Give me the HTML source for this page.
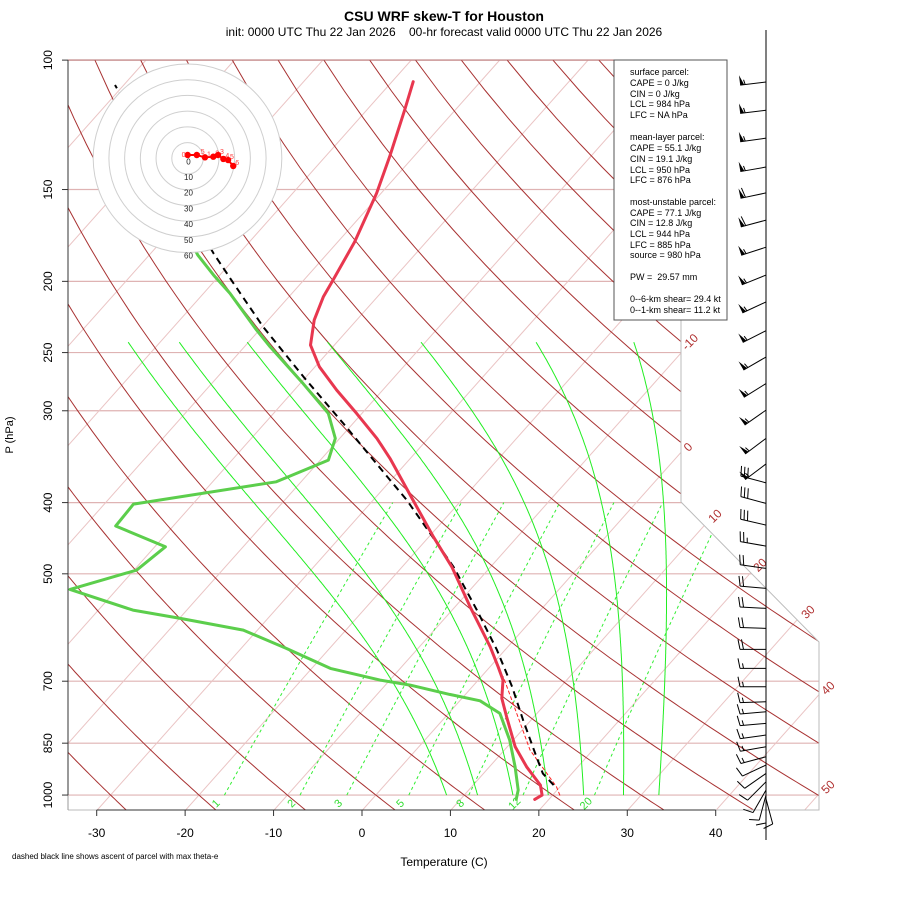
<!DOCTYPE html>
<html><head><meta charset="utf-8"><title>CSU WRF skew-T for Houston</title>
<style>
html,body{margin:0;padding:0;background:#fff;}
svg{display:block;font-family:"Liberation Sans",Arial,sans-serif;}
</style></head>
<body>
<svg id="chart" width="900" height="900" viewBox="0 0 900 900" xmlns="http://www.w3.org/2000/svg">
  <defs>
    <clipPath id="plotclip"><polygon points="68,60 681,60 681,502 819,642 819,810 68,810"/></clipPath>
  </defs>
  <rect x="0" y="0" width="900" height="900" fill="#fff"/>
  <text x="444" y="21" text-anchor="middle" font-size="14" font-weight="bold">CSU WRF skew-T for Houston</text>
  <text x="444" y="36" text-anchor="middle" font-size="12" xml:space="preserve">init: 0000 UTC Thu 22 Jan 2026    00-hr forecast valid 0000 UTC Thu 22 Jan 2026</text>
  <g id="bg" clip-path="url(#plotclip)"></g>
  <g id="frame"></g>
  <g id="series"></g>
  <g id="winds"></g>
  <g id="hodo"></g>
  <g id="legend">
    <rect x="614" y="60" width="113" height="260" fill="#fff" stroke="#555" stroke-width="1"/>
    <g font-size="9" fill="#000">
      <text x="630" y="75">surface parcel:</text>
      <text x="630" y="86">CAPE = 0 J/kg</text>
      <text x="630" y="97">CIN = 0 J/kg</text>
      <text x="630" y="107">LCL = 984 hPa</text>
      <text x="630" y="118">LFC = NA hPa</text>
      <text x="630" y="140">mean-layer parcel:</text>
      <text x="630" y="151">CAPE = 55.1 J/kg</text>
      <text x="630" y="162">CIN = 19.1 J/kg</text>
      <text x="630" y="173">LCL = 950 hPa</text>
      <text x="630" y="183">LFC = 876 hPa</text>
      <text x="630" y="205">most-unstable parcel:</text>
      <text x="630" y="216">CAPE = 77.1 J/kg</text>
      <text x="630" y="226">CIN = 12.8 J/kg</text>
      <text x="630" y="237">LCL = 944 hPa</text>
      <text x="630" y="248">LFC = 885 hPa</text>
      <text x="630" y="258">source = 980 hPa</text>
      <text x="630" y="280" xml:space="preserve">PW =  29.57 mm</text>
      <text x="630" y="302">0--6-km shear= 29.4 kt</text>
      <text x="630" y="313">0--1-km shear= 11.2 kt</text>
    </g>
  </g>
  <text x="444" y="866" text-anchor="middle" font-size="12">Temperature (C)</text>
  <text x="13" y="435" text-anchor="middle" font-size="11" transform="rotate(-90 13 435)">P (hPa)</text>
  <text x="12" y="859" font-size="8">dashed black line shows ascent of parcel with max theta-e</text>
</svg>
<script>
// ---- data ----
const tempP=[1013.6,1000,969.3,915.3,859.6,782.5,738.6,697.5,668.9,628.4,554.4,489.1,445.2,396.9,348.3,327.1,302.5,281.2,261.4,244.2,225.8,210.0,199.2,176.7,151.8,135.4,117.0,107.0];
const tempT=[18.4,18.8,17.6,14.2,10.9,6.9,4.5,2.8,0.9,-2.0,-8.3,-14.4,-19.5,-25.5,-32.3,-35.8,-40.6,-45.2,-49.5,-52.7,-54.8,-56.1,-56.7,-58.1,-60.5,-62.7,-65.7,-67.6];
const dewP=[1013.6,984.5,915.3,841.8,774.2,744.3,729.5,708.6,697.5,672.4,631.6,596.4,574.9,560.2,525.0,494.2,459.4,430.5,401.9,374.8,350.1,327.1,302.5,275.3,245.5,233.0,207.7,196.1,184.2,170.3];
const dewT=[16.3,15.6,12.9,9.6,5.8,2.3,-1.8,-7.2,-11.1,-17.9,-24.9,-31.6,-39.9,-46.1,-55.3,-49.7,-48.8,-56.5,-56.7,-42.8,-39.1,-40.5,-43.8,-49.7,-57.1,-60.3,-67.0,-70.7,-74.5,-78.5];
const parcelP=[969.3,934.5,886.9,790.6,712.2,635.0,560.2,489.1,440.5,396.9,372.8,312.1,269.7,230.6,201.3,183.2,108.1];
const parcelT=[19.1,16.7,14.3,9.1,4.5,-0.9,-7.2,-14.2,-20.2,-26.2,-30.1,-41.1,-50.3,-59.9,-67.6,-72.9,-101.0];
const virtP=[1000,974.4,868.5,774.2,690.3];
const virtT=[20.8,19.6,12.9,7.7,2.5];
const windP=[107.1,117.0,127.7,139.8,151.6,165.1,179.7,196.1,213.3,233.4,253.5,275.5,299.4,327.1,354.4,376.0,401.0,429.2,458.4,491.6,523.3,557.2,593.2,633.6,672.4,712.2,746.6,770.4,798.8,828.6,859.6,886.9,910.3,934.5,959.4,984.5,1000,1006,1012];
const windSpd=[55,55,55,55,60,60,55,55,55,55,55,55,55,55,55,30,30,30,25,20,20,20,20,20,15,15,15,15,15,15,15,15,10,10,10,10,10,10,10];
const windDir=[263,263,262,260,258,255,252,248,245,243,240,238,235,233,233,285,285,283,280,278,275,273,272,270,270,270,268,265,265,262,260,255,245,235,225,210,195,180,165];
const hodoU=[0.1,5.9,11.1,16.4,19.4,22.8,25.8,29.1];
const hodoV=[2.1,2.1,0.6,1.0,2.1,-0.4,-1.1,-4.9];
const hodoLab=['0','.5','1','2','3','4','5','6'];
const xTicks=[-30,-20,-10,0,10,20,30,40];
const pTicks=[100,150,200,250,300,400,500,700,850,1000];
const mixRatios=[1,2,3,5,8,12,20];
const moistStarts=[8,11.5,15.5,19.5,23.5,28,32];
const isoLabels=[-10,0,10,20,30,40,50];

// ---- scales ----
const NS='http://www.w3.org/2000/svg';
function ty(p){return 132.18-44.061*Math.log10(p);}
function Y(p){return 795-16.68*ty(p);}
function X(T,p){return 375.9+16.376*(0.54*T+0.90692*ty(p));}
function mk(tag,parent){const e=document.createElementNS(NS,tag);parent.appendChild(e);return e;}
function pathFrom(pts){return pts.map((q,i)=>(i?'L':'M')+q[0].toFixed(1)+','+q[1].toFixed(1)).join(' ');}
const bg=document.getElementById('bg'),frame=document.getElementById('frame'),series=document.getElementById('series'),winds=document.getElementById('winds'),hodo=document.getElementById('hodo');

// pressure lines
pTicks.forEach(p=>{
  const l=mk('line',bg);
  l.setAttribute('x1',68);l.setAttribute('x2',820);l.setAttribute('y1',Y(p));l.setAttribute('y2',Y(p));
  l.setAttribute('stroke','#dfb3b3');l.setAttribute('stroke-width','1.2');
  
  
});
// isotherms
for(let T=-140;T<=60;T+=10){
  const l=mk('line',bg);
  l.setAttribute('x1',X(T,1050));l.setAttribute('y1',Y(1050));l.setAttribute('x2',X(T,100));l.setAttribute('y2',Y(100));
  l.setAttribute('stroke','#eac4c4');l.setAttribute('stroke-width','1');
  
  
}
// dry adiabats
for(let th=-40;th<=200;th+=10){
  const pts=[];
  for(let p=100;p<=1060;p+=10){const T=(th+273.15)*Math.pow(p/1000,0.2857)-273.15;pts.push([X(T,p),Y(p)]);}
  const e=mk('path',bg);
  e.setAttribute('d',pathFrom(pts));e.setAttribute('fill','none');e.setAttribute('stroke','#a83232');e.setAttribute('stroke-width','1');
  
  
}
// moist adiabats
function es(T){return 6.112*Math.exp(17.67*T/(T+243.5));}
moistStarts.forEach(T0=>{
  let T=T0+273.15,p=1000;const pts=[[X(T0,p),Y(p)]];
  while(p>242){
    const e=es(T-273.15);const rs=0.622*e/(p-e);
    const d=(287*T+2.5e6*rs)/(1004+2.5e6*2.5e6*rs*0.622/(287*T*T));
    const np=p-2;T+=d*Math.log(np/p);p=np;pts.push([X(T-273.15,p),Y(p)]);
  }
  const el=mk('path',bg);
  el.setAttribute('d',pathFrom(pts));el.setAttribute('fill','none');el.setAttribute('stroke','#22ee22');el.setAttribute('stroke-width','1');
  
  
});
// mixing ratio lines
function tdFromW(w,p){const e=w*p/(622+w);const a=Math.log(e/6.112);return 243.5*a/(17.67-a);}
mixRatios.forEach(w=>{
  const pts=[];for(let p=1000;p>=400;p-=20)pts.push([X(tdFromW(w,p),p),Y(p)]);
  const el=mk('path',bg);
  el.setAttribute('d',pathFrom(pts));el.setAttribute('fill','none');el.setAttribute('stroke','#33ee33');el.setAttribute('stroke-width','1');el.setAttribute('stroke-dasharray','3,3');
  
  
  const tx=X(tdFromW(w,1000),1000)-6,tyy=806;
  const t=mk('text',frame);
  t.setAttribute('x',tx);t.setAttribute('y',tyy);t.setAttribute('font-size','11');t.setAttribute('fill','#33dd33');t.setAttribute('text-anchor','middle');
  t.setAttribute('transform','rotate(-45 '+tx+' '+tyy+')');t.textContent=w;
  
  
});
// top edge line
{const l=mk('line',frame);l.setAttribute('x1',68);l.setAttribute('x2',681);l.setAttribute('y1',60);l.setAttribute('y2',60);l.setAttribute('stroke','#b57070');l.setAttribute('stroke-width','1');

}
// right boundary
{const pl=mk('polyline',frame);pl.setAttribute('points','681,60 681,502 819,642 819,810 68,810');pl.setAttribute('fill','none');pl.setAttribute('stroke','#bbb');pl.setAttribute('stroke-width','1');

}
// isotherm labels
const isoPos=[[690,342],[688,447],[715,516],[760,565],[808,612],[828,688],[828,787]];
isoLabels.forEach((v,i)=>{
  const t=mk('text',frame);const [x,y]=isoPos[i];
  t.setAttribute('x',x);t.setAttribute('y',y+4);t.setAttribute('font-size','12');t.setAttribute('fill','#b03030');t.setAttribute('text-anchor','middle');
  t.setAttribute('transform','rotate(-45 '+x+' '+y+')');t.textContent=v;
  
  
});
// axes
{const a=mk('line',frame);a.setAttribute('x1',68);a.setAttribute('x2',68);a.setAttribute('y1',60);a.setAttribute('y2',810);a.setAttribute('stroke','#999');


const b=mk('line',frame);b.setAttribute('x1',68);b.setAttribute('x2',68);b.setAttribute('y1',Y(100));b.setAttribute('y2',Y(1000));b.setAttribute('stroke','#333');


const c=mk('line',frame);c.setAttribute('x1',X(-30,1050));c.setAttribute('x2',X(40,1050));c.setAttribute('y1',810);c.setAttribute('y2',810);c.setAttribute('stroke','#333');

}
pTicks.forEach(p=>{
  const y=Y(p);const tk=mk('line',frame);
  tk.setAttribute('x1',62);tk.setAttribute('x2',68);tk.setAttribute('y1',y);tk.setAttribute('y2',y);tk.setAttribute('stroke','#333');
  
  
  const t=mk('text',frame);t.setAttribute('x',52);t.setAttribute('y',y);t.setAttribute('font-size','12');t.setAttribute('text-anchor','middle');
  t.setAttribute('transform','rotate(-90 52 '+y+')');t.textContent=p;
  
  
});
xTicks.forEach(T=>{
  const x=X(T,1050);const tk=mk('line',frame);
  tk.setAttribute('x1',x);tk.setAttribute('x2',x);tk.setAttribute('y1',810);tk.setAttribute('y2',816);tk.setAttribute('stroke','#333');
  
  
  const t=mk('text',frame);t.setAttribute('x',x);t.setAttribute('y',837);t.setAttribute('font-size','12');t.setAttribute('text-anchor','middle');t.textContent=T;
  
  
});
// series
function line(P,T,color,w,dash){
  const pts=P.map((p,i)=>[X(T[i],p),Y(p)]);
  const e=mk('path',series);e.setAttribute('d',pathFrom(pts));e.setAttribute('fill','none');e.setAttribute('stroke',color);e.setAttribute('stroke-width',w);
  e.setAttribute('stroke-linejoin','round');e.setAttribute('stroke-linecap','round');if(dash)e.setAttribute('stroke-dasharray',dash);return e;
}
const dl=line(dewP,dewT,'#5cce4c',3);


const vl=line(virtP,virtT,'#ff2020',1,'3,3');


const pl2=line(parcelP,parcelT,'#000',2,'7,5');
pl2.setAttribute('stroke-linecap','butt');


const tl=line(tempP,tempT,'#e8374f',3);


// wind staff
{const s=mk('line',winds);s.setAttribute('x1',766);s.setAttribute('x2',766);s.setAttribute('y1',30);s.setAttribute('y2',840);s.setAttribute('stroke','#000');

}
windP.forEach((p,i)=>{
  const g=mk('g',winds);
  
  
  const x0=766,y0=Y(p),r=windDir[i]*Math.PI/180,L=26;
  const ux=Math.sin(r),uy=-Math.cos(r),px=Math.cos(r),py=Math.sin(r);
  const tx=x0+L*ux,ty2=y0+L*uy;
  const st=mk('line',g);st.setAttribute('x1',x0);st.setAttribute('y1',y0);st.setAttribute('x2',tx);st.setAttribute('y2',ty2);st.setAttribute('stroke','#000');
  let s=Math.round(windSpd[i]/5)*5,pos=0;
  while(s>=50){
    const a=[tx-pos*ux,ty2-pos*uy],b=[tx-(pos+4)*ux,ty2-(pos+4)*uy],c=[a[0]+10*px,a[1]+10*py];
    const tri=mk('polygon',g);tri.setAttribute('points',a.join(',')+' '+b.join(',')+' '+c.join(','));tri.setAttribute('fill','#000');
    s-=50;pos+=5;
  }
  while(s>=10){
    const a=[tx-pos*ux,ty2-pos*uy];const bl=mk('line',g);
    bl.setAttribute('x1',a[0]);bl.setAttribute('y1',a[1]);bl.setAttribute('x2',a[0]+10*px+2*ux);bl.setAttribute('y2',a[1]+10*py+2*uy);bl.setAttribute('stroke','#000');
    s-=10;pos+=3.5;
  }
  if(s>=5){
    if(pos===0)pos=3;
    const a=[tx-pos*ux,ty2-pos*uy];const bl=mk('line',g);
    bl.setAttribute('x1',a[0]);bl.setAttribute('y1',a[1]);bl.setAttribute('x2',a[0]+5*px+1*ux);bl.setAttribute('y2',a[1]+5*py+1*uy);bl.setAttribute('stroke','#000');
  }
});
// hodograph
const hx=187.5,hy=158.3,hk=1.572;
{const c=mk('circle',hodo);c.setAttribute('cx',hx);c.setAttribute('cy',hy);c.setAttribute('r',60*hk);c.setAttribute('fill','#fff');c.setAttribute('stroke','none');

}
for(let k=1;k<=6;k++){
  const c=mk('circle',hodo);c.setAttribute('cx',hx);c.setAttribute('cy',hy);c.setAttribute('r',k*10*hk);c.setAttribute('fill','none');c.setAttribute('stroke','#cfcfcf');
  
  
}
for(let k=0;k<=6;k++){
  const t=mk('text',hodo);t.setAttribute('x',hx+1);t.setAttribute('y',hy+k*10*hk+6);t.setAttribute('font-size','8');t.setAttribute('text-anchor','middle');t.setAttribute('fill','#222');t.textContent=k*10;
  
  
}
{const pts=hodoU.map((u,i)=>[hx+u*hk,hy-hodoV[i]*hk]);
const e=mk('path',hodo);e.setAttribute('d',pathFrom(pts));e.setAttribute('fill','none');e.setAttribute('stroke','#ff0000');e.setAttribute('stroke-width','2');


pts.forEach((q,i)=>{
  const d=mk('circle',hodo);d.setAttribute('cx',q[0]);d.setAttribute('cy',q[1]);d.setAttribute('r',3.2);d.setAttribute('fill','#ff0000');
  
  
  const t=mk('text',hodo);t.setAttribute('x',q[0]+(i===0?-6:2));t.setAttribute('y',q[1]+(i===0?2:-1));t.setAttribute('font-size','7');t.setAttribute('fill','#ff4040');t.textContent=hodoLab[i];
  
  
});}
</script>
</body></html>
